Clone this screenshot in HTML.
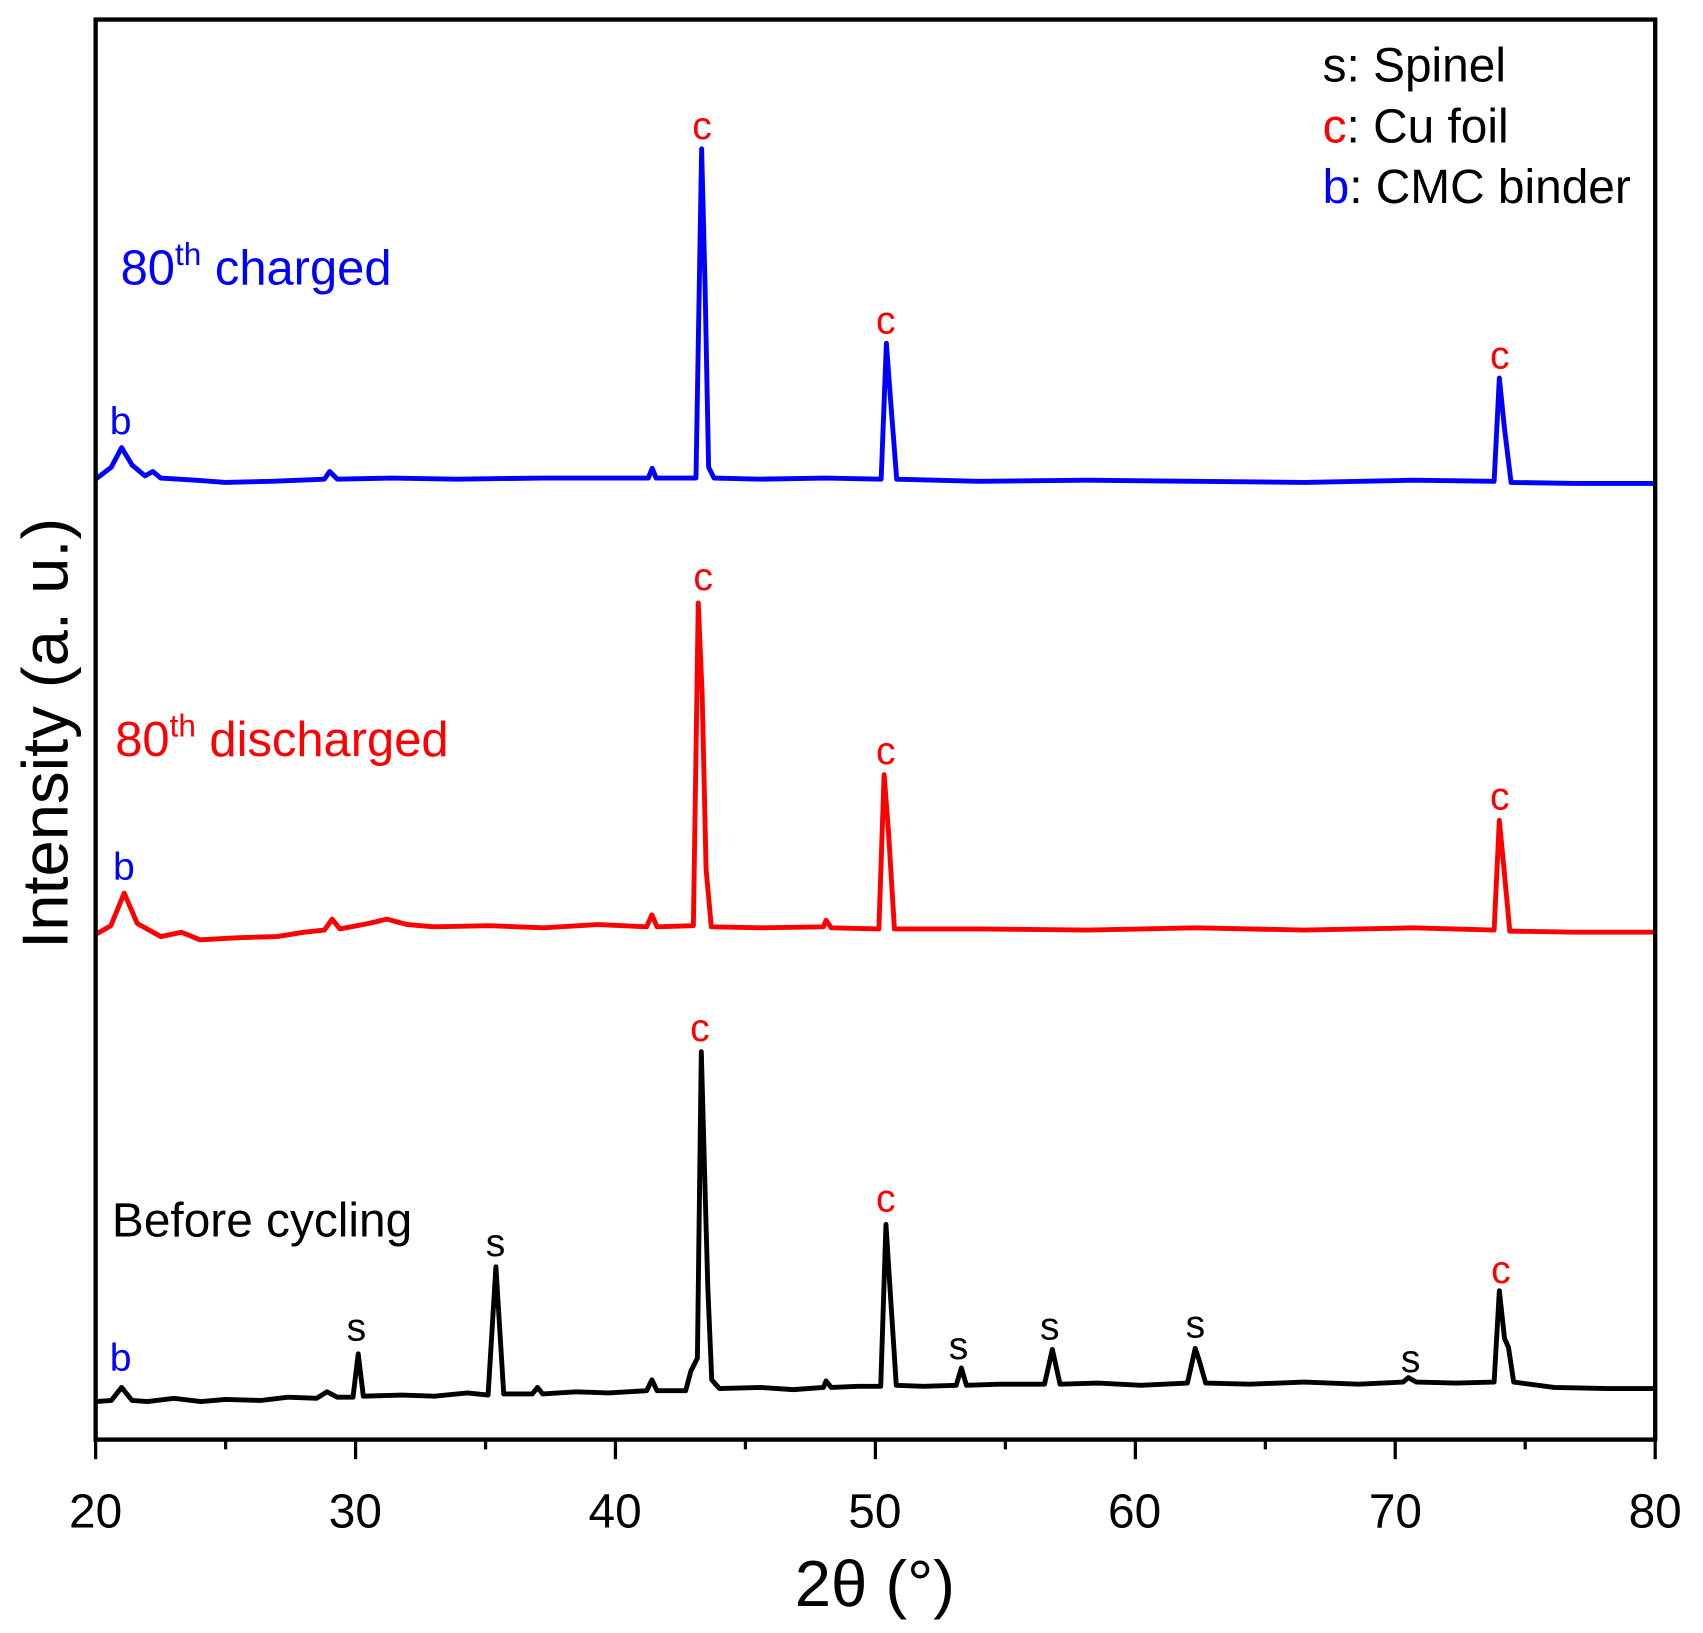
<!DOCTYPE html>
<html><head><meta charset="utf-8"><style>
html,body{margin:0;padding:0;background:#fff}
svg{display:block}
text{font-family:"Liberation Sans",Arial,sans-serif}
</style></head><body>
<svg width="1703" height="1633" viewBox="0 0 1567 1503" preserveAspectRatio="none" xmlns="http://www.w3.org/2000/svg">
<rect x="0" y="0" width="1567" height="1503" fill="#fff"/>
<g fill="none" stroke-width="4.5" stroke-linejoin="round">
<polyline stroke="#000" points="88,1290 102.4,1289 111.9,1277 121.5,1289 135.8,1290 160,1287 185,1290 207.6,1288 240,1289 265,1286 291.3,1287 300.9,1281 310.4,1286 324.8,1286 329.6,1246 334.3,1285 370,1284 400,1285 430,1282 449.1,1284 456.3,1166 463.5,1283 489.8,1283 494.6,1277 499.4,1283 530,1281 560,1282 595,1280 599.8,1270 604.6,1280 630.9,1280 635.7,1262 641.7,1250 645.3,968 648.9,1100 651.3,1185 654.9,1270 662,1278 700,1277 730,1279 757.7,1277 760.1,1271 764.9,1277 790,1276 810.4,1276 815.2,1127 819.2,1190 824.7,1275 850,1276 879.8,1275 884.6,1259 889.3,1275 920,1274 961.1,1274 968.3,1242 975.4,1274 1010,1273 1050,1275 1092.6,1273 1099.8,1241 1103.4,1252 1109.4,1273 1150,1274 1200,1272 1250,1274 1291.1,1272 1295.9,1268 1303.1,1272 1340,1273 1374.8,1272 1379.6,1188 1384.4,1232 1388,1240 1392.8,1272 1430,1277 1480,1278 1523,1278"/>
<polyline stroke="#f00" points="88,860 102,852 114.3,822 126.3,850 148,862 167,858 184,865 220,863 255,862 280,858 298.5,856 305.6,846 312.8,855 339,850 355.9,846 375,851 399,853 450,852 500,854 550,851 595,853 599.8,842 604.6,853 638,852 642.5,555 646.1,640 649.7,800 654.5,853 700,854 757.7,853 760.1,847 764.9,854 808.7,855 813.5,713 817.5,765 823,855 900,855 1000,856 1100,854 1200,856 1300,854 1374.8,856 1379.6,755 1383.9,800 1389.2,857 1450,858 1523,858"/>
<polyline stroke="#00f" points="88,441 102.4,430 111.9,412 121.5,428 133.4,438 140.6,434 147.8,440 180,442 207.6,444 250,443 298.5,441 303.3,434 310.4,441 360,440 420,441 500,440 596.5,440 600.1,431 603.7,440 640.4,440 645.6,137 648.8,265 652,430 657,440 700,441 760,440 810.8,441 815.6,316 819.6,370 825.1,441 900,443 1000,442 1100,443 1200,444 1300,442 1374.8,443 1379.6,348 1384.4,395 1390.4,444 1450,445 1523,445"/>
</g>
<rect x="88" y="18" width="1435" height="1307" fill="none" stroke="#000" stroke-width="4"/>
<g stroke="#000" stroke-width="3">
<line x1="88" x2="88" y1="1325" y2="1343"/><line x1="207.6" x2="207.6" y1="1325" y2="1334"/>
<line x1="327.2" x2="327.2" y1="1325" y2="1343"/><line x1="446.8" x2="446.8" y1="1325" y2="1334"/>
<line x1="566.3" x2="566.3" y1="1325" y2="1343"/><line x1="685.9" x2="685.9" y1="1325" y2="1334"/>
<line x1="805.5" x2="805.5" y1="1325" y2="1343"/><line x1="925.1" x2="925.1" y1="1325" y2="1334"/>
<line x1="1044.7" x2="1044.7" y1="1325" y2="1343"/><line x1="1164.3" x2="1164.3" y1="1325" y2="1334"/>
<line x1="1283.8" x2="1283.8" y1="1325" y2="1343"/><line x1="1403.4" x2="1403.4" y1="1325" y2="1334"/>
<line x1="1523" x2="1523" y1="1325" y2="1343"/>
</g>
<g font-size="44" text-anchor="middle" fill="#000">
<text x="88" y="1406">20</text><text x="327" y="1406">30</text><text x="566" y="1406">40</text>
<text x="805" y="1406">50</text><text x="1044" y="1406">60</text><text x="1284" y="1406">70</text><text x="1523" y="1406">80</text>
</g>
<text x="805" y="1478" font-size="60" text-anchor="middle">2θ (°)</text>
<text transform="translate(62,675) rotate(-90)" font-size="60" text-anchor="middle">Intensity (a. u.)</text>
<g font-size="44">
<text x="1217" y="75">s: Spinel</text>
<text x="1217" y="131"><tspan fill="#f00">c</tspan>: Cu foil</text>
<text x="1217" y="187"><tspan fill="#00f">b</tspan>: CMC binder</text>
</g>
<text x="111" y="262" font-size="45" fill="#00f">80<tspan font-size="29" dy="-18">th</tspan><tspan dy="18"> charged</tspan></text>
<text x="106" y="696" font-size="45" fill="#f00">80<tspan font-size="29" dy="-18">th</tspan><tspan dy="18"> discharged</tspan></text>
<text x="103" y="1138" font-size="44" fill="#000">Before cycling</text>
<g font-size="36" text-anchor="middle">
<g fill="#f00">
<text x="646" y="128">c</text><text x="815" y="307">c</text><text x="1380" y="339">c</text>
<text x="647" y="543">c</text><text x="815" y="703">c</text><text x="1380" y="745">c</text>
<text x="644" y="958">c</text><text x="815" y="1115">c</text><text x="1381" y="1181">c</text>
</g>
<g fill="#00f">
<text x="111" y="400">b</text><text x="114" y="810">b</text><text x="111" y="1262">b</text>
</g>
<g fill="#000">
<text x="328" y="1234">s</text><text x="456" y="1156">s</text><text x="882" y="1251">s</text>
<text x="966" y="1233">s</text><text x="1100" y="1231">s</text><text x="1298" y="1263">s</text>
</g>
</g>
</svg>
</body></html>
